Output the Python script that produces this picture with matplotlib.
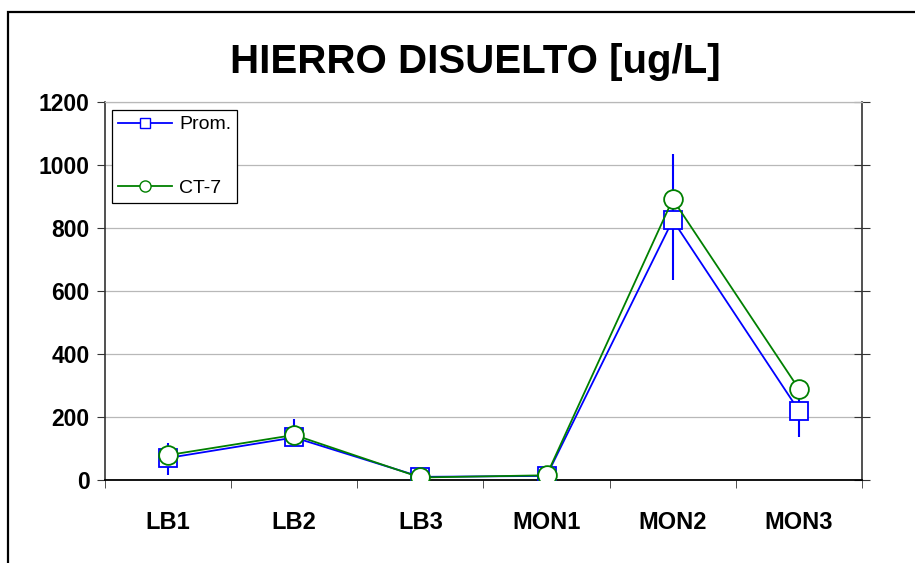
"""Recreate the dissolved iron chart (HIERRO DISUELTO)."""

import matplotlib
matplotlib.use("Agg")
import matplotlib.pyplot as plt
from matplotlib.lines import Line2D
from matplotlib.patches import Rectangle

plt.rcParams["font.family"] = ["Liberation Sans", "DejaVu Sans"]

STATIONS = ["LB1", "LB2", "LB3", "MON1", "MON2", "MON3"]
PROM = [70, 135, 10, 13, 825, 220]
PROM_ERR_LOW = [54, 25, 0, 0, 190, 82]
PROM_ERR_HIGH = [47, 58, 0, 0, 210, 82]
CT7 = [79, 143, 8, 15, 891, 289]
Y_TICKS = [0, 200, 400, 600, 800, 1000, 1200]

BLUE = "#0000ff"
GREEN = "#008000"


def main() -> None:
    fig = plt.figure(figsize=(9.15, 5.63), dpi=100)
    ax = fig.add_axes([105 / 915, 83 / 563, 757 / 915, 378 / 563])

    # outer chart frame (left and top edges visible, rest cropped)
    frame = Rectangle((8 / 915, -0.1), 1.2, (563 - 12) / 563 + 0.1,
                      transform=fig.transFigure, fill=False,
                      edgecolor="black", linewidth=1.6, clip_on=False)
    fig.patches.append(frame)

    x = range(len(STATIONS))
    ax.errorbar(x, PROM, yerr=[PROM_ERR_LOW, PROM_ERR_HIGH], fmt="none",
                ecolor=BLUE, elinewidth=1.5, capsize=0, zorder=2)
    ax.plot(x, PROM, color=BLUE, linewidth=1.3, marker="s",
            markersize=13, markerfacecolor="white", markeredgecolor=BLUE,
            markeredgewidth=1.3, zorder=3)
    ax.plot(x, CT7, color=GREEN, linewidth=1.3, marker="o",
            markersize=13.5, markerfacecolor="white", markeredgecolor=GREEN,
            markeredgewidth=1.3, zorder=4)

    ax.set_xlim(-0.5, len(STATIONS) - 0.5)
    ax.set_ylim(0, 1200)
    ax.set_yticks(Y_TICKS)
    ax.set_yticklabels([str(v) for v in Y_TICKS], fontsize=16.5,
                       fontweight="bold")
    ax.set_xticks(list(x))
    ax.set_xticklabels(STATIONS, fontsize=17, fontweight="bold")
    ax.set_xticks([i + 0.5 for i in range(-1, len(STATIONS))], minor=True)

    ax.tick_params(axis="x", which="major", length=0, pad=22)
    ax.tick_params(axis="x", which="minor", length=6, direction="out",
                   color="#333333")
    ax.tick_params(axis="y", which="major", length=6, direction="out",
                   right=True, pad=5, color="#333333")
    for t in ax.yaxis.get_ticklines()[1::2]:
        t.set_marker("_")
        t.set_markersize(12)

    ax.grid(axis="y", color="#b8b8b8", linewidth=0.9)
    ax.set_axisbelow(True)
    for side in ("left", "right"):
        ax.spines[side].set_color("#333333")
        ax.spines[side].set_linewidth(1.2)
    ax.spines["bottom"].set_color("black")
    ax.spines["bottom"].set_linewidth(1.3)
    ax.spines["top"].set_color("#b8b8b8")
    ax.spines["top"].set_linewidth(0.9)

    fig.text(475 / 915, 1 - 62 / 563, "HIERRO DISUELTO [ug/L]",
             ha="center", va="center", fontsize=29, fontweight="bold")

    handles = [
        Line2D([], [], color=BLUE, linewidth=1.3, marker="s", markersize=7.5,
               markerfacecolor="white", markeredgecolor=BLUE),
        Line2D([], [], color=GREEN, linewidth=1.3, marker="o", markersize=8,
               markerfacecolor="white", markeredgecolor=GREEN),
    ]
    leg = ax.legend(handles, ["Prom.", "CT-7"], loc="upper left",
                    bbox_to_anchor=(7 / 757, 1 - 8 / 378), borderaxespad=0,
                    fancybox=False, edgecolor="black", framealpha=1,
                    fontsize=14, labelspacing=2.35, handlelength=2.8,
                    handletextpad=0.35, borderpad=0.3)
    leg.get_frame().set_linewidth(0.9)

    fig.savefig("out.png", dpi=100)
    plt.close(fig)


if __name__ == "__main__":
    main()
